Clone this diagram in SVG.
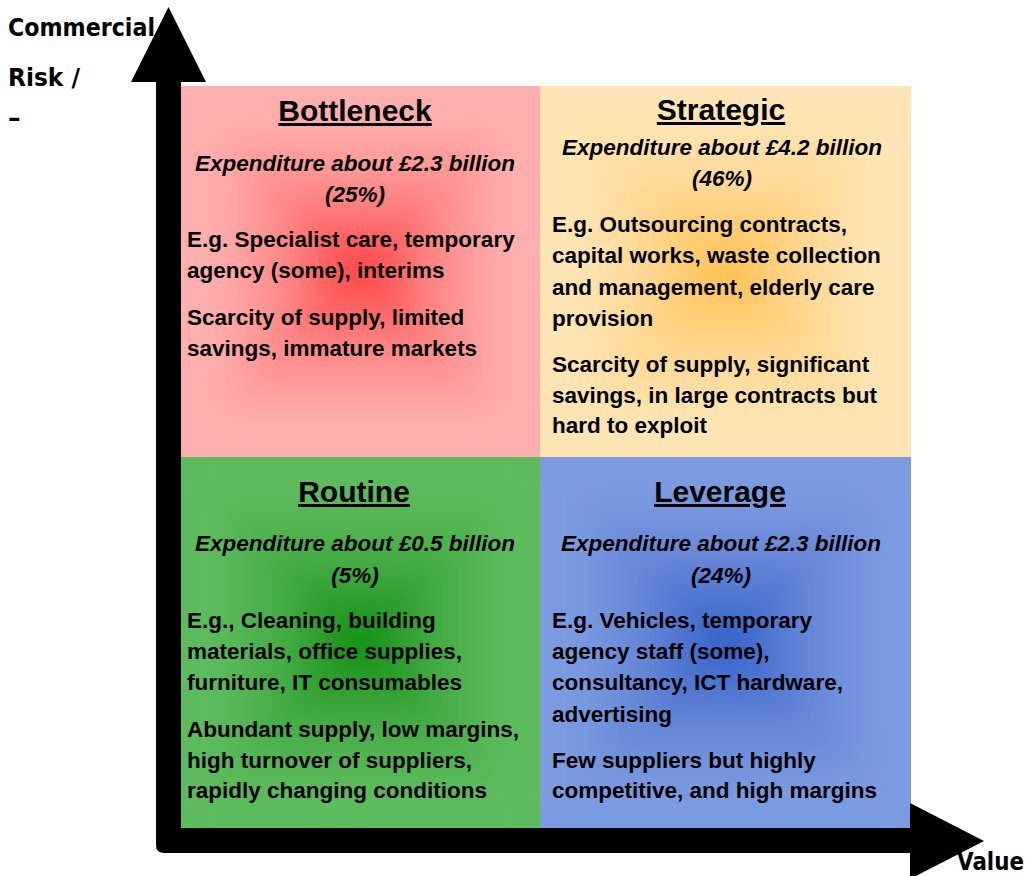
<svg xmlns="http://www.w3.org/2000/svg" width="1027" height="876" viewBox="0 0 1027 876">
  <style>
    .axis-label { font-family: "DejaVu Sans", Verdana, sans-serif; font-weight: bold; font-size: 25px; fill: #000; }
    .title { font-family: "Liberation Sans", Arial, sans-serif; font-weight: bold; font-size: 30px; fill: #000; text-anchor: middle; text-decoration: underline; text-underline-offset: 5px; }
    .spend { font-family: "Liberation Sans", Arial, sans-serif; font-weight: bold; font-style: italic; font-size: 22.5px; fill: #000; text-anchor: middle; }
    .body { font-family: "Liberation Sans", Arial, sans-serif; font-weight: bold; font-size: 22.5px; fill: #000; }
  </style>
  <defs>
    <!-- Stop ramps: quadrant edge colour towards the quadrant centre colour -->
    <linearGradient id="red">
      <stop offset="0" stop-color="#FFAFAF"/>
      <stop offset="0.18" stop-color="#FFAFAF"/>
      <stop offset="0.55" stop-color="#FF8C8C"/>
      <stop offset="0.82" stop-color="#FF6060"/>
      <stop offset="1" stop-color="#FF3E3E"/>
    </linearGradient>
    <linearGradient id="amber">
      <stop offset="0" stop-color="#FFE5B5"/>
      <stop offset="0.18" stop-color="#FFE5B5"/>
      <stop offset="0.55" stop-color="#FFD994"/>
      <stop offset="0.82" stop-color="#FFCB6C"/>
      <stop offset="1" stop-color="#FFBE45"/>
    </linearGradient>
    <linearGradient id="green">
      <stop offset="0" stop-color="#5DBB5D"/>
      <stop offset="0.18" stop-color="#5DBB5D"/>
      <stop offset="0.55" stop-color="#46AD46"/>
      <stop offset="0.82" stop-color="#279B27"/>
      <stop offset="1" stop-color="#0B8F0B"/>
    </linearGradient>
    <linearGradient id="blue">
      <stop offset="0" stop-color="#7B9BE0"/>
      <stop offset="0.18" stop-color="#7B9BE0"/>
      <stop offset="0.55" stop-color="#6686D7"/>
      <stop offset="0.82" stop-color="#4871CF"/>
      <stop offset="1" stop-color="#2F5CC9"/>
    </linearGradient>
    <!-- Directional variants (edge -> centre) for the four triangles of each quadrant -->
    <linearGradient id="red-t" href="#red" x1="0" y1="0" x2="0" y2="1"/>
    <linearGradient id="red-b" href="#red" x1="0" y1="1" x2="0" y2="0"/>
    <linearGradient id="red-l" href="#red" x1="0" y1="0" x2="1" y2="0"/>
    <linearGradient id="red-r" href="#red" x1="1" y1="0" x2="0" y2="0"/>
    <linearGradient id="amber-t" href="#amber" x1="0" y1="0" x2="0" y2="1"/>
    <linearGradient id="amber-b" href="#amber" x1="0" y1="1" x2="0" y2="0"/>
    <linearGradient id="amber-l" href="#amber" x1="0" y1="0" x2="1" y2="0"/>
    <linearGradient id="amber-r" href="#amber" x1="1" y1="0" x2="0" y2="0"/>
    <linearGradient id="green-t" href="#green" x1="0" y1="0" x2="0" y2="1"/>
    <linearGradient id="green-b" href="#green" x1="0" y1="1" x2="0" y2="0"/>
    <linearGradient id="green-l" href="#green" x1="0" y1="0" x2="1" y2="0"/>
    <linearGradient id="green-r" href="#green" x1="1" y1="0" x2="0" y2="0"/>
    <linearGradient id="blue-t" href="#blue" x1="0" y1="0" x2="0" y2="1"/>
    <linearGradient id="blue-b" href="#blue" x1="0" y1="1" x2="0" y2="0"/>
    <linearGradient id="blue-l" href="#blue" x1="0" y1="0" x2="1" y2="0"/>
    <linearGradient id="blue-r" href="#blue" x1="1" y1="0" x2="0" y2="0"/>

    <filter id="soft" x="-10%" y="-10%" width="120%" height="120%">
      <feGaussianBlur stdDeviation="14"/>
    </filter>
    <clipPath id="clip-tl"><rect x="181" y="86" width="359" height="372"/></clipPath>
    <clipPath id="clip-tr"><rect x="540" y="86" width="371" height="372"/></clipPath>
    <clipPath id="clip-bl"><rect x="181" y="457" width="359" height="371"/></clipPath>
    <clipPath id="clip-br"><rect x="540" y="457" width="371" height="371"/></clipPath>
  </defs>

  <!-- Bottleneck quadrant (top left) -->
  <g id="bottleneck">
    <g clip-path="url(#clip-tl)">
      <rect x="181" y="86" width="359" height="372" fill="#FFAFAF"/>
      <g filter="url(#soft)">
        <polygon points="181,86 540,86 360.5,272" fill="url(#red-t)"/>
        <polygon points="181,458 540,458 360.5,272" fill="url(#red-b)"/>
        <polygon points="181,86 181,458 360.5,272" fill="url(#red-l)"/>
        <polygon points="540,86 540,458 360.5,272" fill="url(#red-r)"/>
      </g>
    </g>
    <text class="title" x="355" y="121">Bottleneck</text>
    <text class="spend" x="355" y="171">Expenditure about £2.3 billion</text>
    <text class="spend" x="355" y="202">(25%)</text>
    <text class="body" x="187" y="247">E.g. Specialist care, temporary</text>
    <text class="body" x="187" y="278">agency (some), interims</text>
    <text class="body" x="187" y="325">Scarcity of supply, limited</text>
    <text class="body" x="187" y="356">savings, immature markets</text>
  </g>

  <!-- Strategic quadrant (top right) -->
  <g id="strategic">
    <g clip-path="url(#clip-tr)">
      <rect x="540" y="86" width="371" height="372" fill="#FFE5B5"/>
      <g filter="url(#soft)">
        <polygon points="540,86 911,86 725.5,272" fill="url(#amber-t)"/>
        <polygon points="540,458 911,458 725.5,272" fill="url(#amber-b)"/>
        <polygon points="540,86 540,458 725.5,272" fill="url(#amber-l)"/>
        <polygon points="911,86 911,458 725.5,272" fill="url(#amber-r)"/>
      </g>
    </g>
    <text class="title" x="721" y="120">Strategic</text>
    <text class="spend" x="722" y="155">Expenditure about £4.2 billion</text>
    <text class="spend" x="722" y="186">(46%)</text>
    <text class="body" x="552" y="232">E.g. Outsourcing contracts,</text>
    <text class="body" x="552" y="263">capital works, waste collection</text>
    <text class="body" x="552" y="295">and management, elderly care</text>
    <text class="body" x="552" y="326">provision</text>
    <text class="body" x="552" y="372">Scarcity of supply, significant</text>
    <text class="body" x="552" y="403">savings, in large contracts but</text>
    <text class="body" x="552" y="433">hard to exploit</text>
  </g>

  <!-- Routine quadrant (bottom left) -->
  <g id="routine">
    <g clip-path="url(#clip-bl)">
      <rect x="181" y="457" width="359" height="371" fill="#5DBB5D"/>
      <g filter="url(#soft)">
        <polygon points="181,457 540,457 360.5,642.5" fill="url(#green-t)"/>
        <polygon points="181,828 540,828 360.5,642.5" fill="url(#green-b)"/>
        <polygon points="181,457 181,828 360.5,642.5" fill="url(#green-l)"/>
        <polygon points="540,457 540,828 360.5,642.5" fill="url(#green-r)"/>
      </g>
    </g>
    <text class="title" x="354" y="502">Routine</text>
    <text class="spend" x="355" y="551">Expenditure about £0.5 billion</text>
    <text class="spend" x="355" y="583">(5%)</text>
    <text class="body" x="187" y="628">E.g., Cleaning, building</text>
    <text class="body" x="187" y="659">materials, office supplies,</text>
    <text class="body" x="187" y="690">furniture, IT consumables</text>
    <text class="body" x="187" y="737">Abundant supply, low margins,</text>
    <text class="body" x="187" y="768">high turnover of suppliers,</text>
    <text class="body" x="187" y="798">rapidly changing conditions</text>
  </g>

  <!-- Leverage quadrant (bottom right) -->
  <g id="leverage">
    <g clip-path="url(#clip-br)">
      <rect x="540" y="457" width="371" height="371" fill="#7B9BE0"/>
      <g filter="url(#soft)">
        <polygon points="540,457 911,457 725.5,642.5" fill="url(#blue-t)"/>
        <polygon points="540,828 911,828 725.5,642.5" fill="url(#blue-b)"/>
        <polygon points="540,457 540,828 725.5,642.5" fill="url(#blue-l)"/>
        <polygon points="911,457 911,828 725.5,642.5" fill="url(#blue-r)"/>
      </g>
    </g>
    <text class="title" x="720" y="502">Leverage</text>
    <text class="spend" x="721" y="551">Expenditure about £2.3 billion</text>
    <text class="spend" x="721" y="583">(24%)</text>
    <text class="body" x="552" y="628">E.g. Vehicles, temporary</text>
    <text class="body" x="552" y="659">agency staff (some),</text>
    <text class="body" x="552" y="690">consultancy, ICT hardware,</text>
    <text class="body" x="552" y="722">advertising</text>
    <text class="body" x="552" y="768">Few suppliers but highly</text>
    <text class="body" x="552" y="798">competitive, and high margins</text>
  </g>

  <!-- Axes: L-shaped bar with two arrowheads -->
  <g id="axes" fill="#000">
    <path d="M156,80 H181 V828 H912 V853 H164 Q156,853 156,845 Z"/>
    <polygon points="168.5,7 131,82 206,82"/>
    <polygon points="984,841 910,803 910,879"/>
  </g>

  <!-- Axis labels -->
  <g id="axis-labels">
    <text class="axis-label" x="8" y="36" textLength="147" lengthAdjust="spacingAndGlyphs">Commercial</text>
    <text class="axis-label" x="8" y="86" textLength="72" lengthAdjust="spacingAndGlyphs">Risk /</text>
    <text class="axis-label" x="8" y="126">–</text>
    <text class="axis-label" x="957" y="870" font-size="24" textLength="67" lengthAdjust="spacingAndGlyphs">Value</text>
  </g>
</svg>
